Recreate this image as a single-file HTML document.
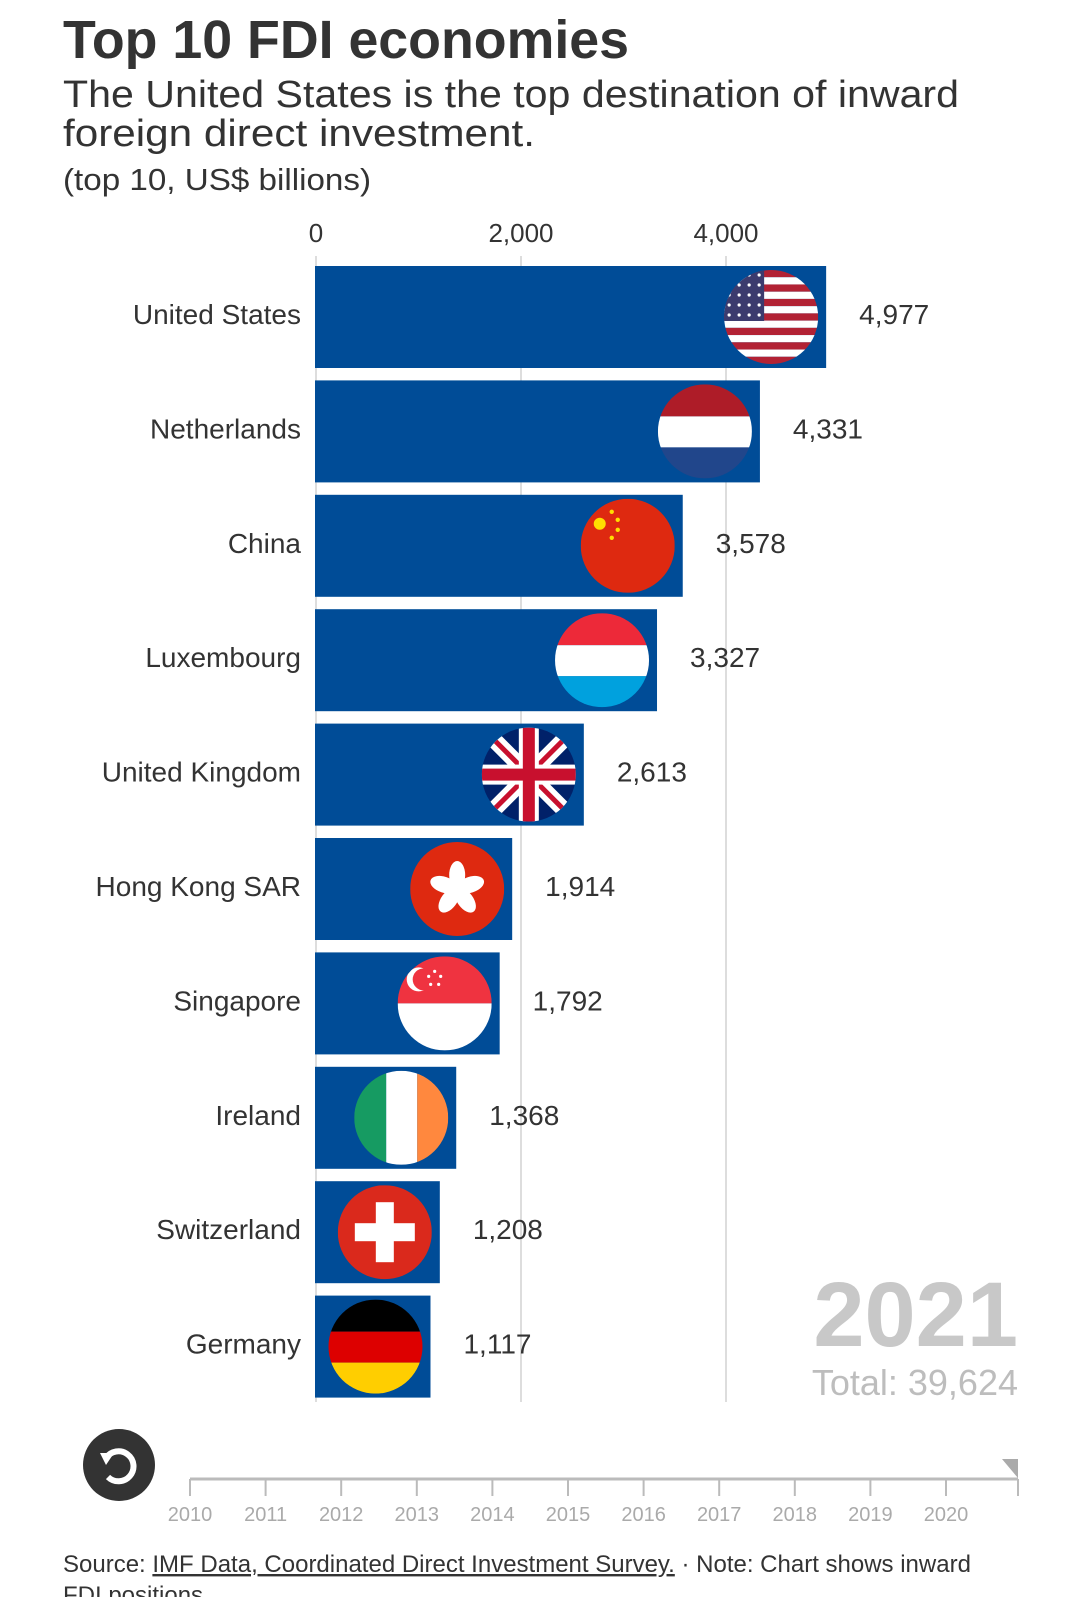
<!DOCTYPE html>
<html><head><meta charset="utf-8"><style>
html,body{margin:0;padding:0;background:#fff;}
svg{display:block;font-family:"Liberation Sans",sans-serif;}
</style></head><body>
<svg id="chart" width="1080" height="1597" viewBox="0 0 1080 1597" xmlns="http://www.w3.org/2000/svg">
<defs>
<clipPath id="cc"><circle cx="0" cy="0" r="47"/></clipPath>
</defs>
<text x="63" y="58" font-size="54" font-weight="bold" fill="#333" textLength="566" lengthAdjust="spacingAndGlyphs">Top 10 FDI economies</text>
<text x="63" y="107" font-size="38" fill="#333" textLength="896" lengthAdjust="spacingAndGlyphs">The United States is the top destination of inward</text>
<text x="63" y="146" font-size="38" fill="#333" textLength="472" lengthAdjust="spacingAndGlyphs">foreign direct investment.</text>
<text x="63" y="190" font-size="31" fill="#333" textLength="308" lengthAdjust="spacingAndGlyphs">(top 10, US$ billions)</text>
<g id="grid"></g>
<g id="bars"></g>
<text x="1018" y="1346" font-size="92" font-weight="bold" fill="#c8c8c8" text-anchor="end">2021</text>
<text x="1018" y="1395" font-size="36" fill="#bdbdbd" text-anchor="end">Total: 39,624</text>
<g>
<circle cx="119" cy="1465" r="36" fill="#333"/>
<path d="M106 1458 A15 15 0 1 1 108 1477" fill="none" stroke="#fff" stroke-width="6"/>
<path d="M100 1453 L114 1453 L106 1465 Z" fill="#fff"/>
</g>
<g id="timeline"></g>
<text x="63" y="1572" font-size="24" fill="#333">Source: <tspan text-decoration="underline">IMF Data, Coordinated Direct Investment Survey.</tspan> · Note: Chart shows inward</text>
<text x="63" y="1603" font-size="24" fill="#333">FDI positions</text>
</svg>
<script>
const countries = ["United States","Netherlands","China","Luxembourg","United Kingdom","Hong Kong SAR","Singapore","Ireland","Switzerland","Germany"];
const values = [4977,4331,3578,3327,2613,1914,1792,1368,1208,1117];
const xTicks = [0,2000,4000];
const years = [2010,2011,2012,2013,2014,2015,2016,2017,2018,2019,2020];

const NS="http://www.w3.org/2000/svg";
function mk(tag,attrs,parent){const e=document.createElementNS(NS,tag);for(const k in attrs)e.setAttribute(k,attrs[k]);parent.appendChild(e);return e;}
const x0=316, pxPer=205/2000;
function xScale(v){return x0+v*pxPer;}
const top0=266, pitch=114.4, bh=102;
function yScale(i){return top0+i*pitch;}

const grid=document.getElementById('grid');
xTicks.forEach(t=>{
  const l=mk('line',{x1:xScale(t),x2:xScale(t),y1:256,y2:1402,stroke:'#ddd','stroke-width':2},grid);
  
  
  const tx=mk('text',{x:xScale(t),y:242,'font-size':26,fill:'#333','text-anchor':'middle'},grid);
  tx.textContent=t.toLocaleString('en-US');
  
  
});

function flag(g,i,cx,cy){
  const f=mk('g',{transform:`translate(${cx},${cy})`,'clip-path':'url(#cc)'},g);
  
  
  const R=(x,y,w,h,c)=>mk('rect',{x,y,width:w,height:h,fill:c},f);
  const n=countries[i];
  if(n==="United States"){for(let k=0;k<13;k++)R(-47,-47+k*94/13,94,94/13,k%2?'#fff':'#b22234');R(-47,-47,40,51,'#3c3b6e');
    for(let a=0;a<5;a++)for(let b=0;b<4;b++)mk('circle',{cx:-42+b*10,cy:-42+a*10,r:1.6,fill:'#fff'},f);}
  else if(n==="Netherlands"){R(-47,-47,94,32,'#ae1c28');R(-47,-15,94,31,'#fff');R(-47,16,94,31,'#21468b');}
  else if(n==="China"){R(-47,-47,94,94,'#de2910');mk('circle',{cx:-28,cy:-22,r:6,fill:'#ffde00'},f);[[-16,-34],[-10,-26],[-10,-16],[-16,-8]].forEach(p=>mk('circle',{cx:p[0],cy:p[1],r:2.2,fill:'#ffde00'},f));}
  else if(n==="Luxembourg"){R(-47,-47,94,32,'#ed2939');R(-47,-15,94,31,'#fff');R(-47,16,94,31,'#00a1de');}
  else if(n==="United Kingdom"){R(-47,-47,94,94,'#012169');mk('path',{d:'M-47 -47L47 47M47 -47L-47 47',stroke:'#fff','stroke-width':16},f);mk('path',{d:'M-47 -47L47 47M47 -47L-47 47',stroke:'#c8102e','stroke-width':5},f);R(-47,-10,94,20,'#fff');R(-10,-47,20,94,'#fff');R(-47,-6,94,12,'#c8102e');R(-6,-47,12,94,'#c8102e');}
  else if(n==="Hong Kong SAR"){R(-47,-47,94,94,'#de2910');for(let k=0;k<5;k++)mk('ellipse',{cx:0,cy:-14,rx:8,ry:14,fill:'#fff',transform:`rotate(${k*72})`},f);}
  else if(n==="Singapore"){R(-47,-47,94,47,'#ef3340');R(-47,0,94,47,'#fff');mk('circle',{cx:-26,cy:-24,r:12,fill:'#fff'},f);mk('circle',{cx:-21,cy:-24,r:11,fill:'#ef3340'},f);[[-16,-32],[-10,-27],[-12,-19],[-20,-19],[-22,-27]].forEach(p=>mk('circle',{cx:p[0]+6,cy:p[1],r:1.6,fill:'#fff'},f));}
  else if(n==="Ireland"){R(-47,-47,32,94,'#169b62');R(-15,-47,31,94,'#fff');R(16,-47,31,94,'#ff883e');}
  else if(n==="Switzerland"){R(-47,-47,94,94,'#da291c');R(-9,-30,18,60,'#fff');R(-30,-9,60,18,'#fff');}
  else if(n==="Germany"){R(-47,-47,94,32,'#000');R(-47,-15,94,31,'#dd0000');R(-47,16,94,31,'#ffce00');}
}

const bars=document.getElementById('bars');
countries.forEach((c,i)=>{
  const y=yScale(i), xe=xScale(values[i]);
  const g=mk('g',{},bars);
  
  
  const r=mk('rect',{x:x0-1,y:y,width:xe-x0+1,height:bh,fill:'#004c97'},g);
  
  
  const lb=mk('text',{x:301,y:y+bh/2+7,'font-size':28,fill:'#333','text-anchor':'end'},g);
  lb.textContent=c;
  
  
  flag(g,i,xe-55,y+bh/2);
  const v=mk('text',{x:xe+33,y:y+bh/2+7,'font-size':28,fill:'#333'},g);
  v.textContent=values[i].toLocaleString('en-US');
  
  
});

const tl=document.getElementById('timeline');
const tx0=190, tstep=75.6, tend=1018;
const axis=mk('line',{x1:tx0,x2:tend,y1:1479,y2:1479,stroke:'#bbb','stroke-width':3},tl);


years.forEach((yr,k)=>{
  const x=tx0+k*tstep;
  const t=mk('line',{x1:x,x2:x,y1:1479,y2:1496,stroke:'#bbb','stroke-width':2},tl);
  
  
  const l=mk('text',{x:x,y:1521,'font-size':20,fill:'#aaa','text-anchor':'middle'},tl);
  l.textContent=yr;
  
  
});
const et=mk('line',{x1:tend,x2:tend,y1:1479,y2:1496,stroke:'#bbb','stroke-width':2},tl);


const h=mk('path',{d:`M${tend-16} 1459 L${tend} 1459 L${tend} 1478 Z`,fill:'#aaa'},tl);


</script>
</body></html>
